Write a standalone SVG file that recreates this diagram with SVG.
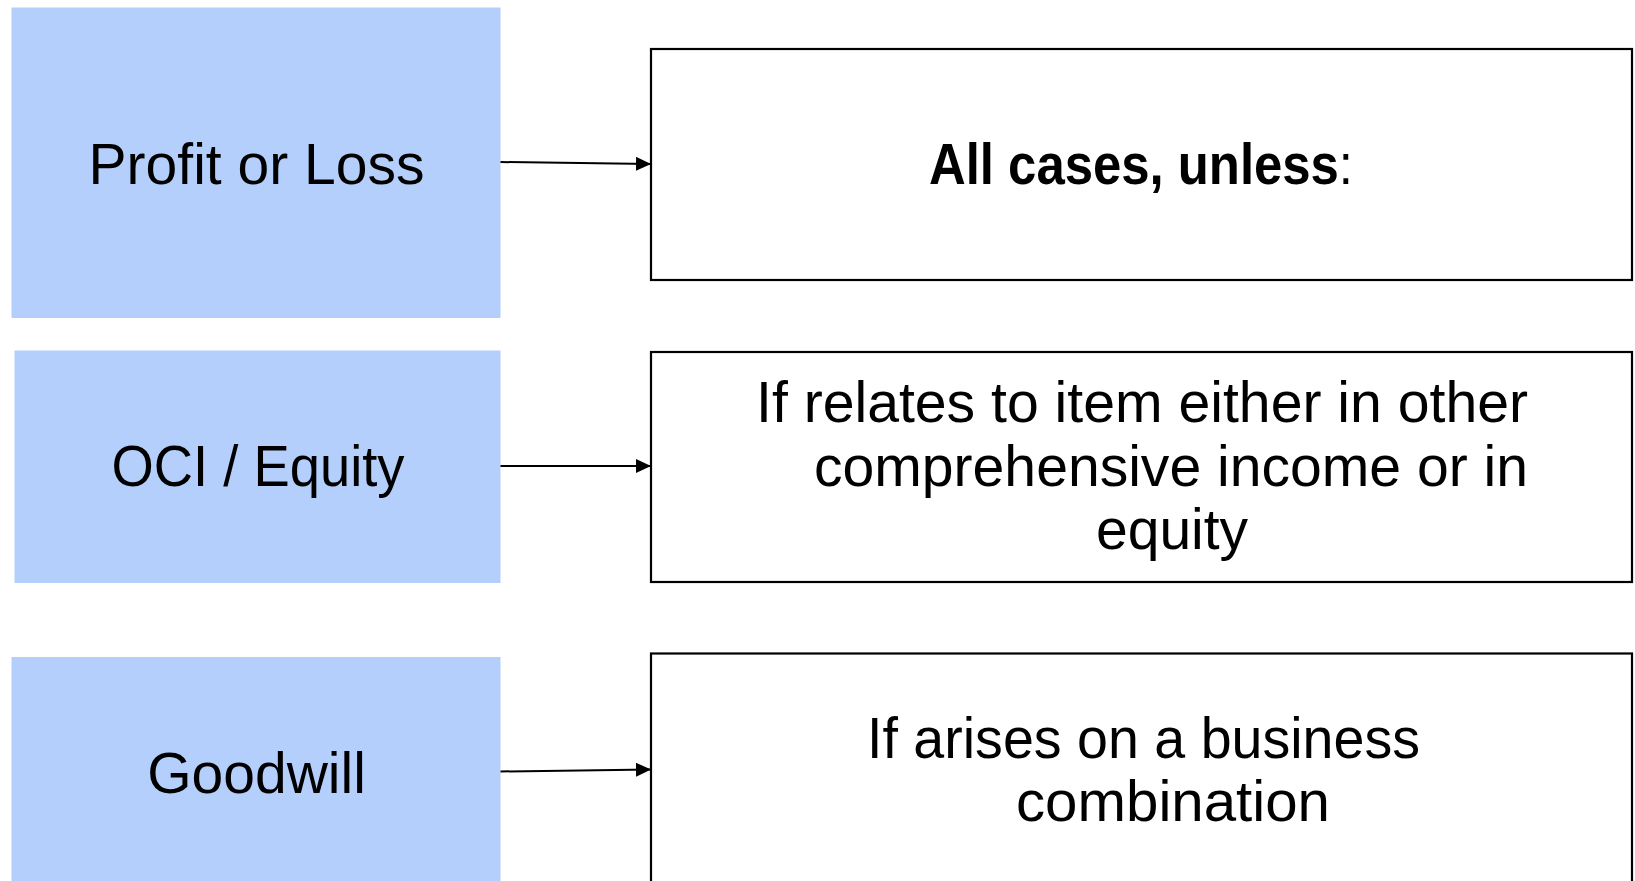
<svg xmlns="http://www.w3.org/2000/svg" width="1635" height="881" viewBox="0 0 1635 881">
<defs>
<style>
.src{fill:#b4cffc;stroke:none}
.dst{fill:#ffffff;stroke:#000000;stroke-width:2.2}
.t{font-family:"Liberation Sans",Arial,sans-serif;font-size:57px;fill:#000000}
.lt{text-anchor:middle}
.b{font-weight:bold}
.n{font-weight:normal}
.conn{stroke:#000000;stroke-width:2;fill:none;marker-end:url(#ah)}
</style>
<marker id="ah" markerUnits="userSpaceOnUse" markerWidth="16" markerHeight="14" refX="15" refY="7" orient="auto">
<path d="M0,0 L15,7 L0,14 z" fill="#000000"/>
</marker>
</defs>
<rect width="1635" height="881" fill="#ffffff"/>
<g id="profit-or-loss">
<rect class="src" x="11.5" y="7.5" width="489" height="310.5"/>
<text class="t lt" x="256.5" y="183.5">Profit or Loss</text>
</g>
<g id="oci-equity">
<rect class="src" x="14.5" y="350.5" width="486" height="232.5"/>
<text class="t lt" x="258" y="486" textLength="293" lengthAdjust="spacingAndGlyphs">OCI / Equity</text>
</g>
<g id="goodwill">
<rect class="src" x="11.5" y="657" width="489" height="230"/>
<text class="t lt" x="256.5" y="792.5">Goodwill</text>
</g>
<g id="all-cases">
<rect class="dst" x="651" y="49" width="981" height="231"/>
<text class="t b" x="929" y="183.5" textLength="424" lengthAdjust="spacingAndGlyphs">All cases, unless<tspan class="n">:</tspan></text>
</g>
<g id="oci-condition">
<rect class="dst" x="651" y="352" width="981" height="230"/>
<text class="t" x="756" y="422" textLength="772" lengthAdjust="spacingAndGlyphs">If relates to item either in other</text>
<text class="t" x="814" y="485.5" textLength="714" lengthAdjust="spacingAndGlyphs">comprehensive income or in</text>
<text class="t" x="1096" y="549">equity</text>
</g>
<g id="goodwill-condition">
<rect class="dst" x="651" y="653.5" width="981" height="240"/>
<text class="t" x="867" y="757.5" textLength="553" lengthAdjust="spacingAndGlyphs">If arises on a business</text>
<text class="t" x="1016" y="820.5" textLength="314" lengthAdjust="spacingAndGlyphs">combination</text>
</g>
<g id="connectors">
<line class="conn" x1="500.5" y1="162" x2="651" y2="164"/>
<line class="conn" x1="500.5" y1="466" x2="651" y2="466"/>
<line class="conn" x1="500.5" y1="771.5" x2="651" y2="769.5"/>
</g>
</svg>
